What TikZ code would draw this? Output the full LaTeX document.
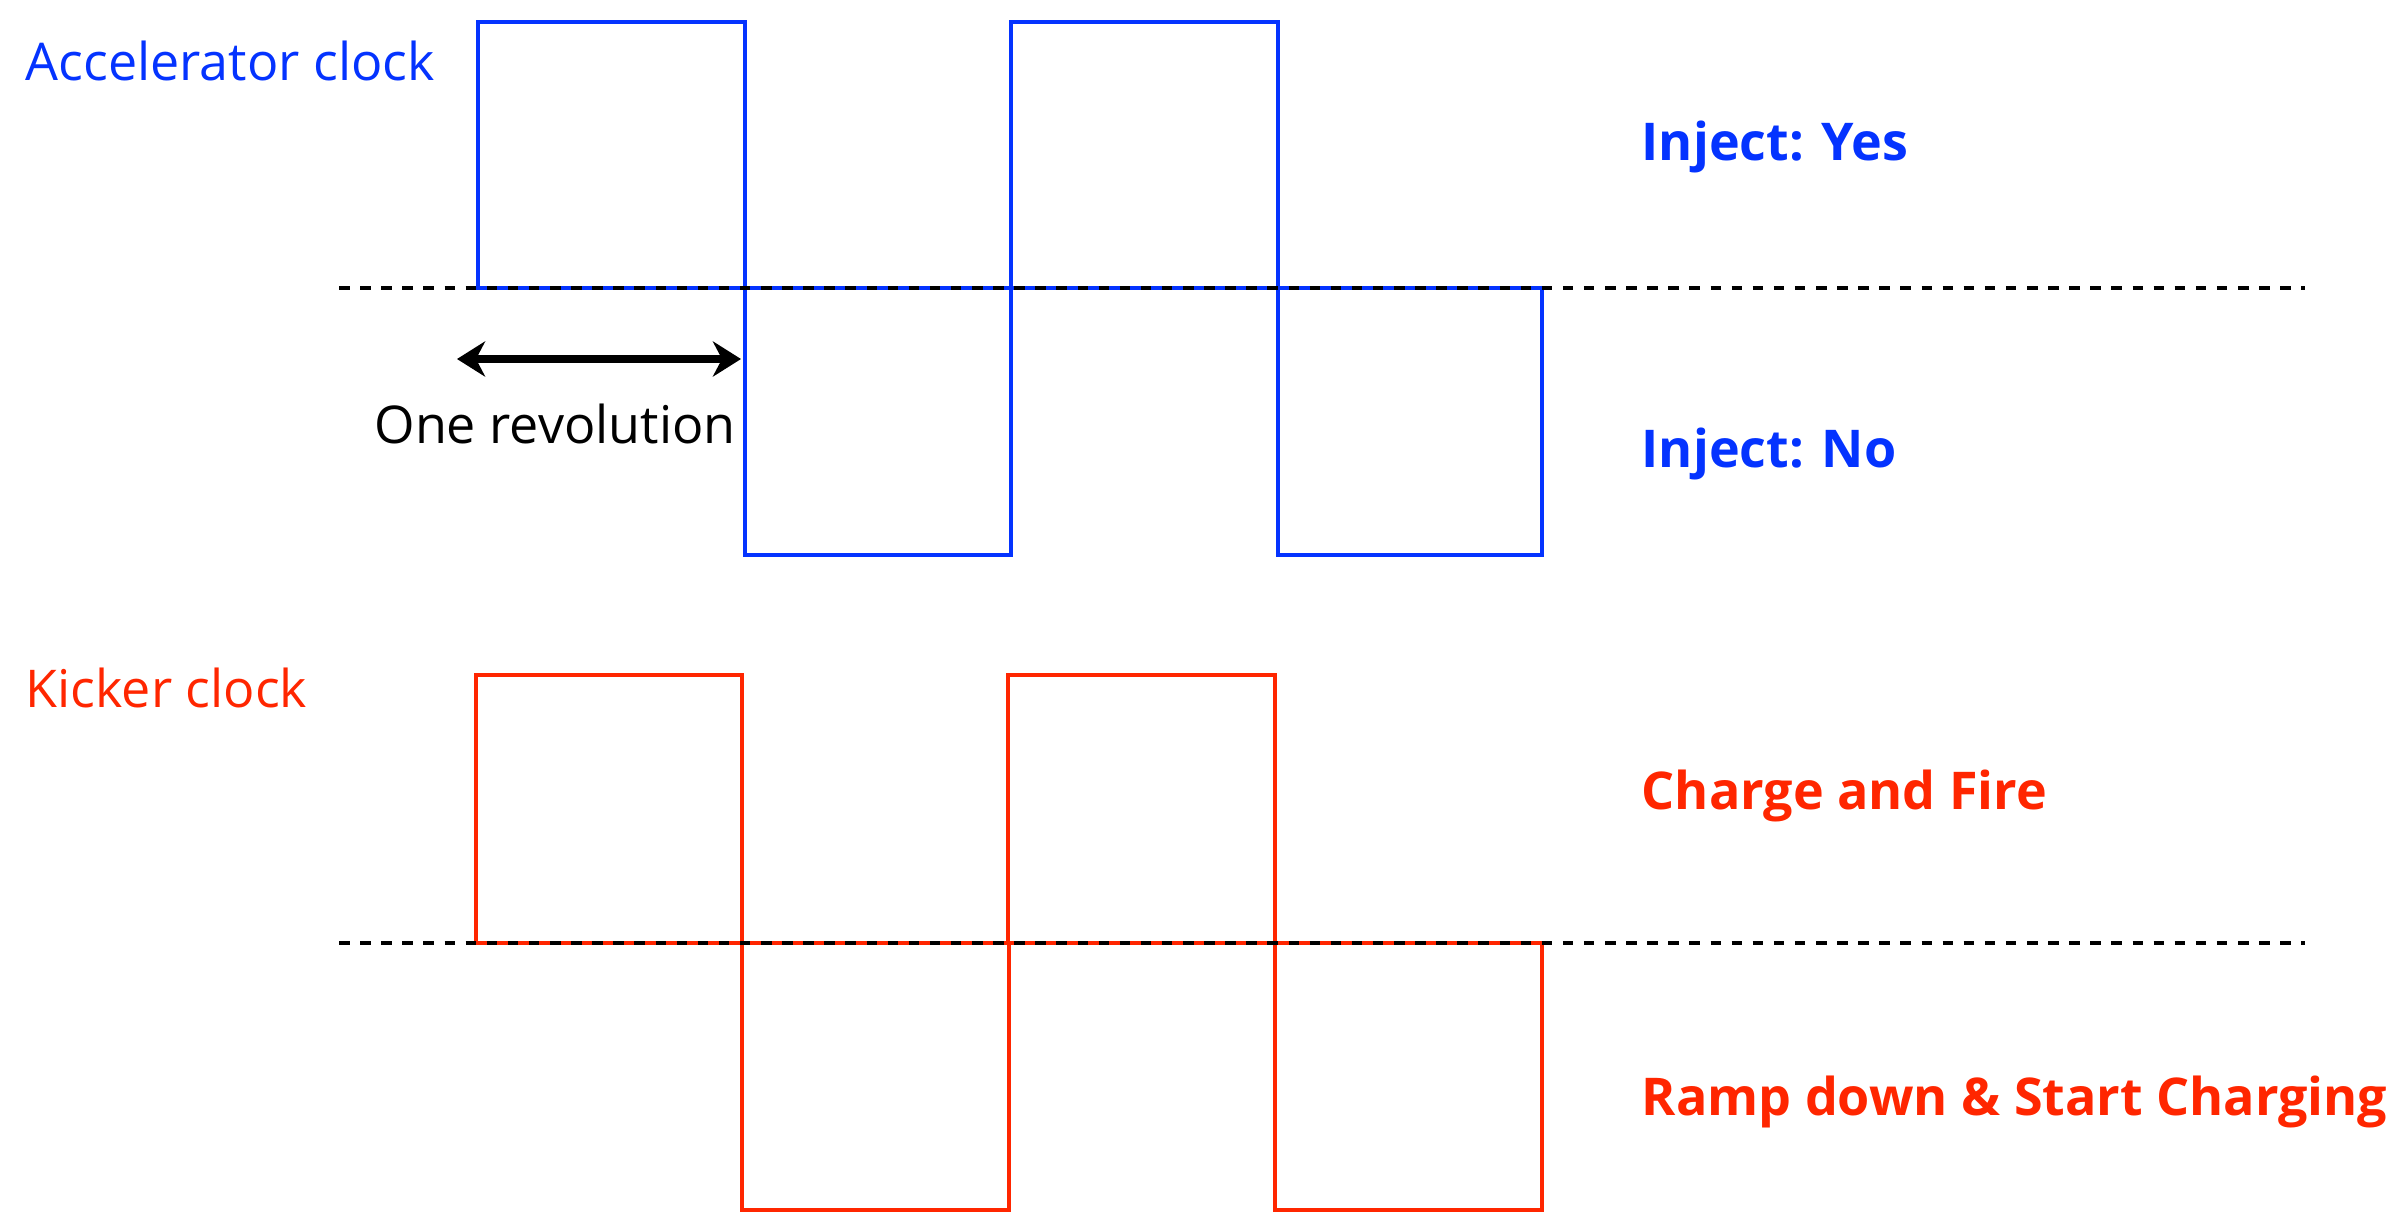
\documentclass[tikz,border=0pt]{standalone}
\usepackage{fontspec}
\setmainfont{Open Sans}
\usetikzlibrary{arrows.meta}
\definecolor{accblue}{HTML}{0433FF}
\definecolor{kickred}{HTML}{FF2600}
\tikzset{accel wave/.style={draw=accblue,line width=1.35pt}}
\tikzset{kicker wave/.style={draw=kickred,line width=1.35pt}}
\tikzset{zero line/.style={draw=black,line width=1.4pt,dash pattern=on 3pt off 3pt}}
\tikzset{clock label/.style={anchor=base west,inner sep=0pt,font=\fontsize{14.8}{18}\selectfont}}
\tikzset{state label/.style={clock label,font=\fontsize{14.8}{18}\selectfont\bfseries}}
\tikzset{rev arrow/.style={line width=2.2pt,{Stealth[length=8pt,width=10pt]}-{Stealth[length=8pt,width=10pt]}}}

\begin{document}
\begin{tikzpicture}[x=0.01cm,y=-0.01cm]
\useasboundingbox (0,0) rectangle (2405,1220);
% accelerator clock
\draw[accel wave] (478,22) rectangle (745,288);
\draw[accel wave] (1011,22) rectangle (1278,288);
\draw[accel wave] (745,288) rectangle (1011,555);
\draw[accel wave] (1278,288) rectangle (1542,555);
\draw[zero line] (339,288) -- (2305,288);
\node[clock label,text=accblue](acc)at(25,80){Accelerator clock};
\node[state label,text=accblue](yes)at(1641,160){Inject: Yes};
\node[state label,text=accblue](no)at(1641,467){Inject: No};
% one revolution
\coordinate(revl)at(457,359);
\coordinate(revr)at(741,359);
\draw[rev arrow](revl)--(revr);
\node[clock label,anchor=base](rev)at(555,443){One revolution};
% kicker clock
\draw[kicker wave] (476,675) rectangle (742,943);
\draw[kicker wave] (1008,675) rectangle (1275,943);
\draw[kicker wave] (742,943) rectangle (1009,1210);
\draw[kicker wave] (1275,943) rectangle (1542,1210);
\draw[zero line] (339,943) -- (2305,943);
\node[clock label,text=kickred](kick)at(25,707){Kicker clock};
\node[state label,text=kickred](fire)at(1641,809){Charge and Fire};
\node[state label,text=kickred](ramp)at(1641,1115){Ramp down \& Start Charging};
\end{tikzpicture}
\end{document}
